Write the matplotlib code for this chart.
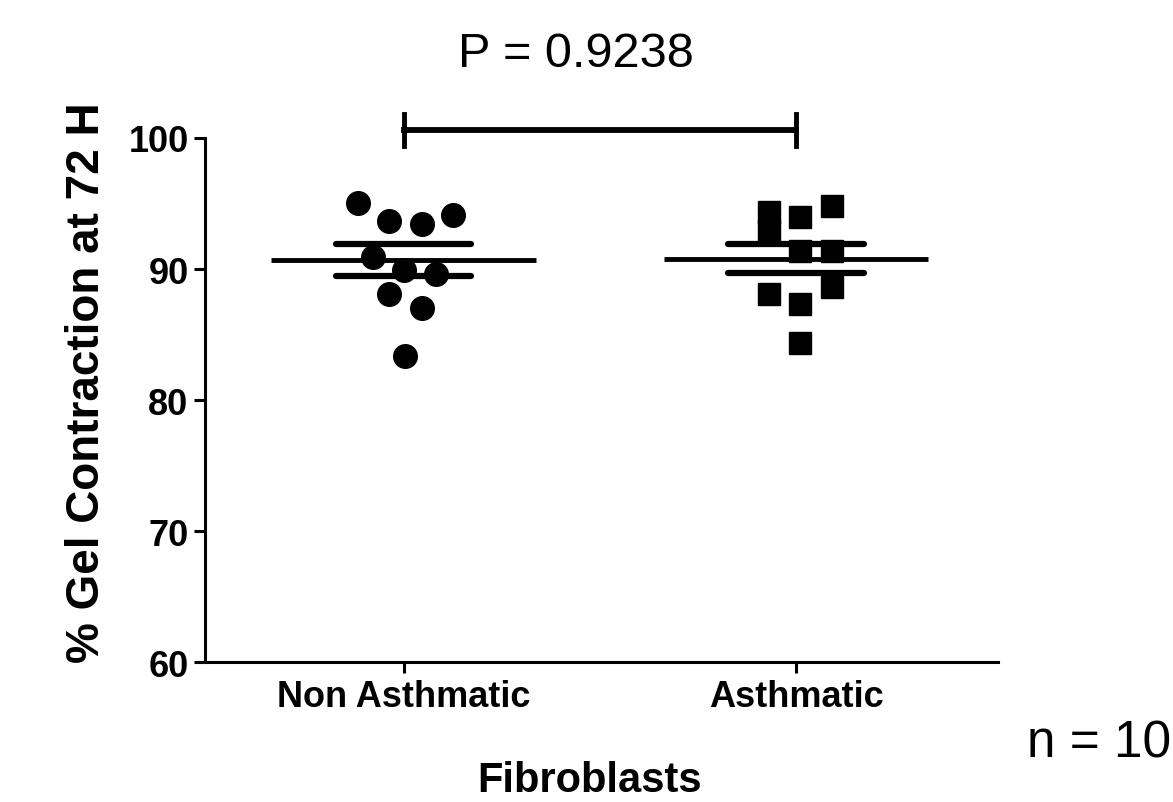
import numpy as np
import matplotlib
matplotlib.use('Agg')
import matplotlib.pyplot as plt

plt.rcParams['font.family'] = ['Liberation Sans', 'DejaVu Sans']

# data
groups = ['Non Asthmatic', 'Asthmatic']
non_asthmatic = [95.0, 93.7, 93.4, 94.1, 90.9, 89.9, 89.6, 88.1, 87.0, 83.4]
asthmatic = [94.35, 92.9, 94.0, 94.8, 91.4, 91.4, 88.1, 87.3, 88.6, 84.35]
# horizontal scatter of the points (group units)
non_offsets = [-0.117, -0.036, 0.046, 0.125, -0.077, 0.0, 0.082, -0.036, 0.046, 0.005]
ast_offsets = [-0.069, -0.069, 0.010, 0.092, 0.010, 0.092, -0.069, 0.010, 0.092, 0.010]
means = [90.7, 90.8]
sems = [1.23, 1.12]
p_text = 'P = 0.9238'
n_text = 'n = 10'

fig = plt.figure(figsize=(11.73, 8.03), dpi=100)
ax = fig.add_axes([0.175, 0.174, 0.676, 0.653])

xs = np.arange(len(groups))
ax.plot(xs[0] + np.array(non_offsets), non_asthmatic, 'o', color='black',
        markersize=17, clip_on=False, zorder=3)
ax.plot(xs[1] + np.array(ast_offsets), asthmatic, 's', color='black',
        markersize=16.5, clip_on=False, zorder=3)

for i in range(len(groups)):
    ax.hlines(means[i], xs[i] - 0.337, xs[i] + 0.337, color='black', lw=3.5, zorder=4)
    for v in (means[i] - sems[i], means[i] + sems[i]):
        ax.hlines(v, xs[i] - 0.173, xs[i] + 0.173, color='black', lw=4.5,
                  capstyle='round', zorder=4)

# significance bracket
yb = 100.6
ax.plot([xs[0], xs[1]], [yb, yb], color='black', lw=4.2, clip_on=False)
for x in xs:
    ax.plot([x, x], [yb - 1.2, yb + 1.2], color='black', lw=3.5, clip_on=False)
fig.text(0.491, 0.932, p_text, ha='center', va='center', fontsize=35)

ax.set_xlim(-0.505, 1.515)
ax.set_ylim(60, 100)
ax.set_yticks([60, 70, 80, 90, 100])
ax.set_xticks(xs)
ax.set_xticklabels(groups, fontsize=26, fontweight='bold')
for lab in ax.get_yticklabels():
    lab.set_fontsize(26)
    lab.set_fontweight('bold')
ax.set_ylabel('% Gel Contraction at 72 H', fontsize=33, fontweight='bold')
ax.yaxis.set_label_coords(-0.121, 0.535)
ax.spines['top'].set_visible(False)
ax.spines['right'].set_visible(False)
for s in ('left', 'bottom'):
    ax.spines[s].set_linewidth(2.2)
ax.tick_params(width=2.2, length=8, direction='out', pad=4)

fig.text(0.503, 0.028, 'Fibroblasts', ha='center', va='center', fontsize=30, fontweight='bold')
fig.text(0.998, 0.073, n_text, ha='right', va='center', fontsize=37)

fig.savefig('out.png', dpi=100)
